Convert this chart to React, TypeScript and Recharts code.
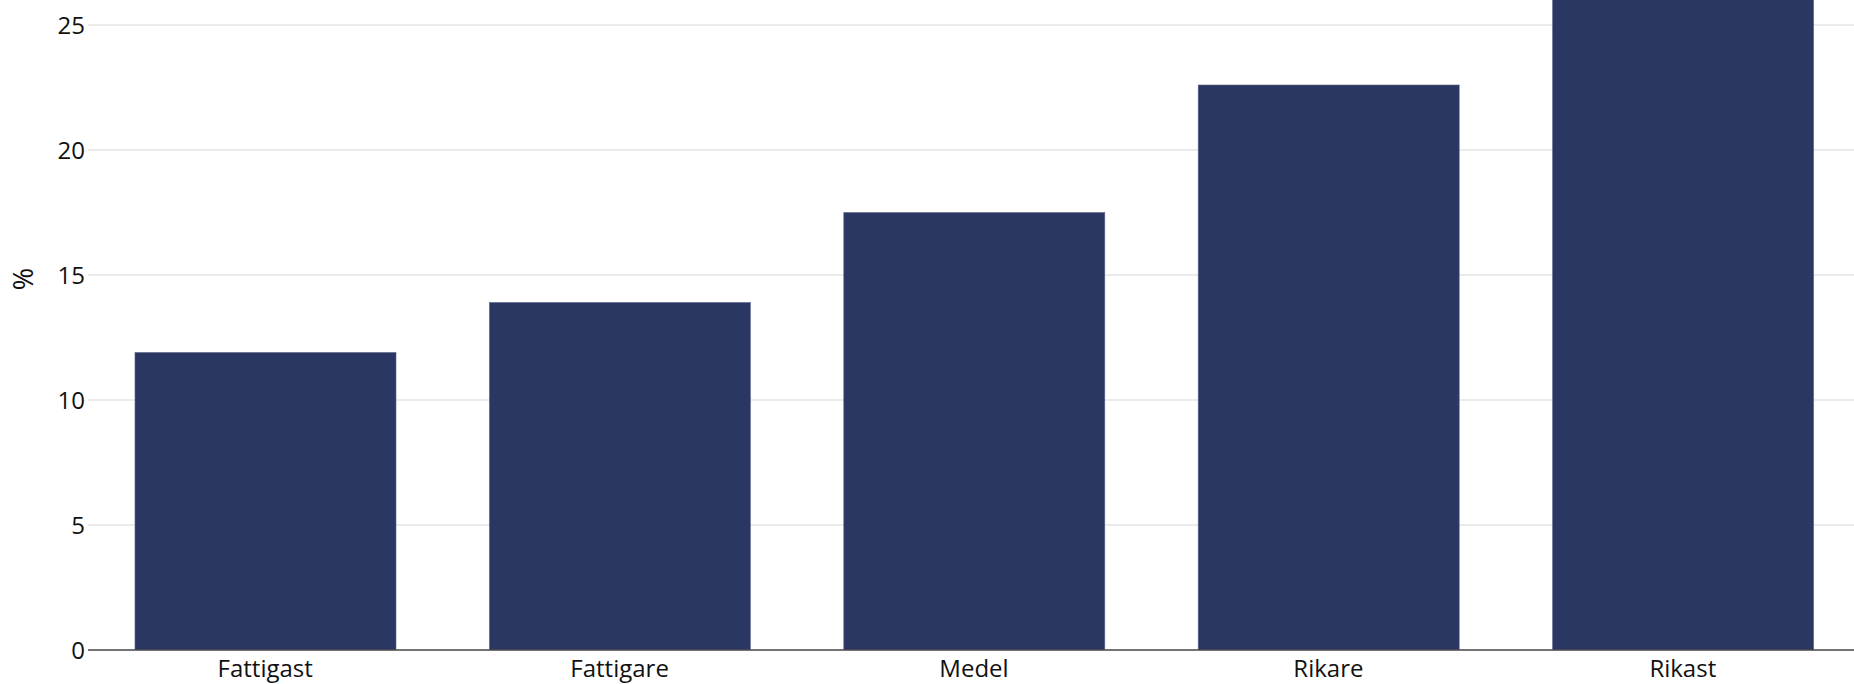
import React from 'react';
import { BarChart, Bar, XAxis, YAxis, CartesianGrid } from 'recharts';

const categories = ['Fattigast', 'Fattigare', 'Medel', 'Rikare', 'Rikast'];
const values = [11.9, 13.9, 17.5, 22.6, 27.0];
const yTicks = [0, 5, 10, 15, 20, 25];

const data = categories.map((c, i) => ({ name: c, value: values[i] }));

const BarShape = (props: any) => {
  const { x, y, width, height } = props;
  return (
    <rect
      x={x}
      y={y}
      width={width}
      height={height + 3}
      fill="#2b3763"
      stroke="#5a6488"
      strokeWidth={0.6}
    />
  );
};

const FONT = "'Open Sans', 'Noto Sans', sans-serif";

export default function App() {
  return (
    <div
      style={{
        position: 'absolute',
        left: 0,
        top: 0,
        width: 1854,
        height: 684,
        overflow: 'hidden',
        background: '#ffffff',
      }}
    >
      <div style={{ position: 'absolute', left: 0, top: -60.5 }}>
        <BarChart
          width={1860}
          height={750}
          data={data}
          margin={{ top: 10, right: 0, bottom: 0, left: 0 }}
        >
          <CartesianGrid vertical={false} stroke="#ebebeb" strokeWidth={2} />
          <YAxis
            width={88}
            domain={[0, 28]}
            ticks={yTicks}
            allowDataOverflow
            axisLine={false}
            tickLine={false}
            tickSize={0}
            tickMargin={3}
            tick={{ fill: '#111111', fontSize: 24, fontFamily: FONT }}
            label={{
              content: () => (
                <text
                  x={22}
                  y={339}
                  transform="rotate(-90 22 339)"
                  textAnchor="middle"
                  dominantBaseline="central"
                  fill="#111111"
                  fontSize={27}
                  fontFamily={FONT}
                >
                  %
                </text>
              ),
            }}
          />
          <XAxis
            dataKey="name"
            height={40}
            axisLine={{ stroke: '#4d4d4d', strokeWidth: 1.5 }}
            tickLine={false}
            tickSize={6}
            tickMargin={4}
            interval={0}
            tick={{ fill: '#111111', fontSize: 24, fontFamily: FONT }}
          />
          <Bar
            dataKey="value"
            barSize={261}
            shape={BarShape}
            isAnimationActive={false}
          />
        </BarChart>
      </div>
    </div>
  );
}
